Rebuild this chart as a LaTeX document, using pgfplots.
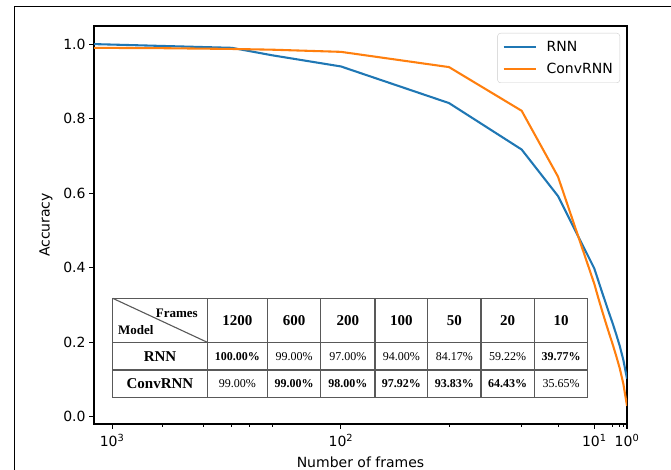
\documentclass[border=0pt]{standalone}
\usepackage{pgfplots}
\pgfplotsset{compat=1.18}
\usepackage{pgfplotstable}
\usepackage{fontspec}
\setmainfont{DejaVu Sans}
\newfontfamily\tnr{Liberation Serif}
\definecolor{tabblue}{HTML}{1F77B4}
\definecolor{taborange}{HTML}{FF7F0E}

\pgfplotstableread{
frames acc
1200 1.000
600 0.995
300 0.990
200 0.970
100 0.940
50 0.8417
30 0.717
20 0.5922
10 0.3977
9 0.368
8 0.338
7 0.309
6 0.280
5 0.252
4 0.222
3 0.190
2 0.152
1 0.102
}\rnn
\pgfplotstableread{
frames acc
1200 0.990
600 0.989
300 0.987
200 0.985
100 0.9792
50 0.9383
30 0.821
20 0.6443
10 0.3565
9 0.322
8 0.289
7 0.257
6 0.226
5 0.196
4 0.164
3 0.130
2 0.088
1 0.029
}\conv

\begin{document}
\begin{tikzpicture}[x=1pt,y=1pt]
\path[use as bounding box] (0,0) rectangle (671,470);
\draw[line width=1pt] (14,0) -- (14,463) -- (671,463);
\begin{axis}[
  at={(94pt,46pt)}, anchor=south west,
  scale only axis, width=533pt, height=398pt,
  x dir=reverse,
  x coord trafo/.code={\pgfmathparse{(#1<=70) ? (1.11111*#1) : (70*(1.11111+log10(#1/70)))}},
  xmin=1, xmax=1200,
  ymin=-0.0196, ymax=1.0486,
  xtick={1000,100,10,1},
  xticklabels={10\textsuperscript{3},10\textsuperscript{2},10\textsuperscript{1},10\textsuperscript{0}},
  minor xtick={600,400,300,250,200,50,30,20,5,3,2},
  ytick={0,0.2,0.4,0.6,0.8,1.0},
  yticklabel style={/pgf/number format/.cd,fixed,fixed zerofill,precision=1,assume math mode=true},
  axis line style={line width=1.1pt},
  major tick style={line width=1.1pt, black},
  minor tick style={line width=0.85pt, black},
  major tick length=4.9pt, minor tick length=2.8pt,
  tick align=outside, xtick pos=bottom, ytick pos=left,
  ticklabel style={font=\fontsize{14}{16}\selectfont},
  xticklabel style={yshift=-2pt},
  label style={font=\fontsize{14}{16}\selectfont},
  xlabel={Number of frames}, ylabel={Accuracy},
  xlabel style={at={(axis description cs:0.5,0)}, anchor=base, yshift=-44pt},
  ylabel style={at={(axis description cs:-0.0901,0.5)}, anchor=center},
  legend style={at={(0.9869,0.9824)}, anchor=north east, draw=black!20, rounded corners=3pt,
    fill=white, fill opacity=0.8, text opacity=1, font=\fontsize{14}{16}\selectfont,
    inner xsep=5pt, inner ysep=6pt, row sep=6pt,
    /tikz/every odd column/.append style={column sep=8pt}},
  legend cell align=left,
  legend image code/.code={\draw[#1] (0pt,0pt) -- (32pt,0pt);},
]
\addplot[tabblue, line width=2.08pt, line join=round] table[x=frames,y=acc] {\rnn};
\addlegendentry{RNN}
\addplot[taborange, line width=2.08pt, line join=round] table[x=frames,y=acc] {\conv};
\addlegendentry{ConvRNN}
\end{axis}
\begin{scope}[line width=1.1pt, draw=black!65]
\fill[white] (112.7,72.7) rectangle (587.7,171.7);
\draw (112.7,72.7) rectangle (587.7,171.7);
\foreach \x in {207.3,267.3,320.7,375,427.7,481,534.3} \draw (\x,72.7) -- (\x,171.7);
\draw (112.7,127.7) -- (587.7,127.7);
\draw (112.7,100) -- (587.7,100);
\draw (112.7,171.7) -- (207.3,127.7);
\end{scope}
\begin{scope}[every node/.style={inner sep=0pt}]
\node[font=\tnr\bfseries\fontsize{13}{15}\selectfont, anchor=base east] at (198,152) {Frames};
\node[font=\tnr\bfseries\fontsize{13}{15}\selectfont, anchor=base west] at (118,135) {Model};
\foreach \x/\t in {237.3/1200,294/600,347.85/200,401.35/100,454.35/50,507.65/20,561/10}
  \node[font=\tnr\bfseries\fontsize{15}{17}\selectfont] at (\x,149.7) {\t};
\node[font=\tnr\bfseries\fontsize{15}{17}\selectfont] at (160,113.8) {RNN};
\node[font=\tnr\bfseries\fontsize{15}{17}\selectfont] at (160,86.35) {ConvRNN};
\foreach \x/\t in {237.3/{\textbf{100.00\%}},294/{99.00\%},347.85/{97.00\%},401.35/{94.00\%},454.35/{84.17\%},507.65/{59.22\%},561/{\textbf{39.77\%}}}
  \node[font=\tnr\fontsize{12}{14}\selectfont] at (\x,113.8) {\t};
\foreach \x/\t in {237.3/{99.00\%},294/{\textbf{99.00\%}},347.85/{\textbf{98.00\%}},401.35/{\textbf{97.92\%}},454.35/{\textbf{93.83\%}},507.65/{\textbf{64.43\%}},561/{35.65\%}}
  \node[font=\tnr\fontsize{12}{14}\selectfont] at (\x,86.35) {\t};
\end{scope}
\end{tikzpicture}
\end{document}
